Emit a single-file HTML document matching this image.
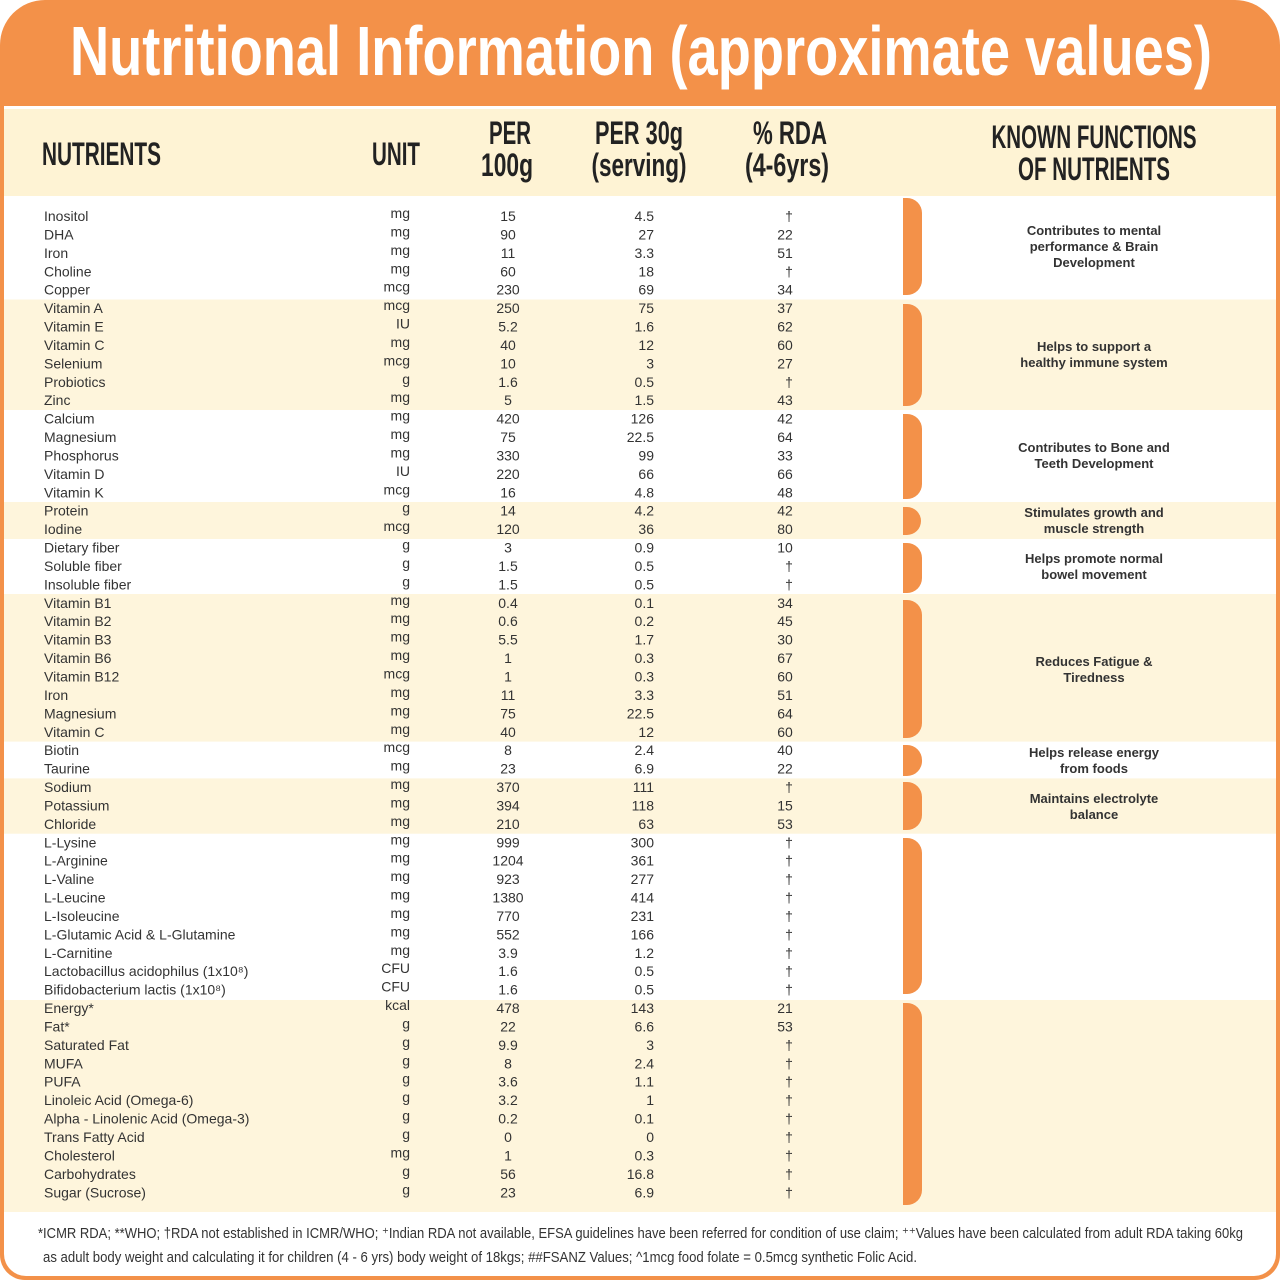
<!DOCTYPE html>
<html><head><meta charset="utf-8"><style>
html,body{margin:0;padding:0;background:#fff}
svg{display:block}
.r text{font-family:"Liberation Sans",sans-serif;font-size:14px;fill:#333}
.f{font-family:"Liberation Sans",sans-serif;font-size:13px;fill:#333;text-anchor:middle;font-weight:bold}
.h{font-family:"Liberation Sans",sans-serif;font-weight:bold;fill:#222}
</style></head><body>
<svg width="1280" height="1280" viewBox="0 0 1280 1280" xmlns="http://www.w3.org/2000/svg">
<path d="M0 45 A45 45 0 0 1 45 0 H1235 A45 45 0 0 1 1280 45 V1255 A25 25 0 0 1 1255 1280 H25 A25 25 0 0 1 0 1255 Z" fill="#f39149"/>
<path d="M4 106 H1276 V1254 A22 22 0 0 1 1254 1276 H26 A22 22 0 0 1 4 1254 Z" fill="#fff"/>
<rect x="4" y="109" width="1272" height="87" fill="#fef3d4"/>
<g fill="#fef5dc">
<rect x="4" y="299.5" width="1272" height="110.5"/>
<rect x="4" y="502" width="1272" height="37"/>
<rect x="4" y="594" width="1272" height="147.6"/>
<rect x="4" y="778.4" width="1272" height="55.3"/>
<rect x="4" y="1000" width="1272" height="212"/>
</g>
<text x="641" y="75" text-anchor="middle" textLength="1142" lengthAdjust="spacingAndGlyphs" style="font-family:'Liberation Sans',sans-serif;font-weight:bold;font-size:70px;fill:#fff">Nutritional Information (approximate values)</text>
<g class="h" font-size="32">
<text x="42" y="165" textLength="119" lengthAdjust="spacingAndGlyphs">NUTRIENTS</text>
<text x="372" y="165" textLength="48" lengthAdjust="spacingAndGlyphs">UNIT</text>
<text x="510" y="144" text-anchor="middle" textLength="42" lengthAdjust="spacingAndGlyphs">PER</text>
<text x="507" y="176" text-anchor="middle" textLength="52" lengthAdjust="spacingAndGlyphs">100g</text>
<text x="639" y="144" text-anchor="middle" textLength="88" lengthAdjust="spacingAndGlyphs">PER 30g</text>
<text x="639" y="176" text-anchor="middle" textLength="95" lengthAdjust="spacingAndGlyphs">(serving)</text>
<text x="790" y="144" text-anchor="middle" textLength="74" lengthAdjust="spacingAndGlyphs">% RDA</text>
<text x="787" y="176" text-anchor="middle" textLength="84" lengthAdjust="spacingAndGlyphs">(4-6yrs)</text>
<text x="1094" y="148" text-anchor="middle" textLength="205" lengthAdjust="spacingAndGlyphs">KNOWN FUNCTIONS</text>
<text x="1094" y="180" text-anchor="middle" textLength="152" lengthAdjust="spacingAndGlyphs">OF NUTRIENTS</text>
</g>
<g fill="#f39149">
<path d="M903 198 H907 A15 15 0 0 1 922 213 V280 A15 15 0 0 1 907 295 H903 Z"/>
<path d="M903 304 H907 A15 15 0 0 1 922 319 V391 A15 15 0 0 1 907 406 H903 Z"/>
<path d="M903 414 H907 A15 15 0 0 1 922 429 V484 A15 15 0 0 1 907 499 H903 Z"/>
<path d="M903 507 H907 A14 14 0 0 1 921 521 A14 14 0 0 1 907 535 H903 Z"/>
<path d="M903 543 H907 A15 15 0 0 1 922 558 V578 A15 15 0 0 1 907 593 H903 Z"/>
<path d="M903 600 H907 A15 15 0 0 1 922 615 V723 A15 15 0 0 1 907 738 H903 Z"/>
<path d="M903 745 H907 A15 15 0 0 1 922 760 A15 15 0 0 1 907 776 H903 Z"/>
<path d="M903 782 H907 A15 15 0 0 1 922 797 V815 A15 15 0 0 1 907 830 H903 Z"/>
<path d="M903 838 H907 A15 15 0 0 1 922 853 V979 A15 15 0 0 1 907 994 H903 Z"/>
<path d="M903 1003 H907 A15 15 0 0 1 922 1018 V1190 A15 15 0 0 1 907 1205 H903 Z"/>
</g>
<g class="f">
<text x="1094" y="235">Contributes to mental</text><text x="1094" y="251">performance &amp; Brain</text><text x="1094" y="267">Development</text>
<text x="1094" y="351">Helps to support a</text><text x="1094" y="367">healthy immune system</text>
<text x="1094" y="452">Contributes to Bone and</text><text x="1094" y="468">Teeth Development</text>
<text x="1094" y="517">Stimulates growth and</text><text x="1094" y="533">muscle strength</text>
<text x="1094" y="563">Helps promote normal</text><text x="1094" y="579">bowel movement</text>
<text x="1094" y="666">Reduces Fatigue &amp;</text><text x="1094" y="682">Tiredness</text>
<text x="1094" y="757">Helps release energy</text><text x="1094" y="773">from foods</text>
<text x="1094" y="803">Maintains electrolyte</text><text x="1094" y="819">balance</text>
</g>
<g class="r">
<g transform="translate(0,221)"><text x="44">Inositol</text><text x="410" y="-3" text-anchor="end">mg</text><text x="508" text-anchor="middle">15</text><text x="654" text-anchor="end">4.5</text><text x="789" text-anchor="middle">†</text></g>
<g transform="translate(0,239.4)"><text x="44">DHA</text><text x="410" y="-3" text-anchor="end">mg</text><text x="508" text-anchor="middle">90</text><text x="654" text-anchor="end">27</text><text x="785" text-anchor="middle">22</text></g>
<g transform="translate(0,257.8)"><text x="44">Iron</text><text x="410" y="-3" text-anchor="end">mg</text><text x="508" text-anchor="middle">11</text><text x="654" text-anchor="end">3.3</text><text x="785" text-anchor="middle">51</text></g>
<g transform="translate(0,276.3)"><text x="44">Choline</text><text x="410" y="-3" text-anchor="end">mg</text><text x="508" text-anchor="middle">60</text><text x="654" text-anchor="end">18</text><text x="789" text-anchor="middle">†</text></g>
<g transform="translate(0,294.7)"><text x="44">Copper</text><text x="410" y="-3" text-anchor="end">mcg</text><text x="508" text-anchor="middle">230</text><text x="654" text-anchor="end">69</text><text x="785" text-anchor="middle">34</text></g>
<g transform="translate(0,313.1)"><text x="44">Vitamin A</text><text x="410" y="-3" text-anchor="end">mcg</text><text x="508" text-anchor="middle">250</text><text x="654" text-anchor="end">75</text><text x="785" text-anchor="middle">37</text></g>
<g transform="translate(0,331.5)"><text x="44">Vitamin E</text><text x="410" y="-3" text-anchor="end">IU</text><text x="508" text-anchor="middle">5.2</text><text x="654" text-anchor="end">1.6</text><text x="785" text-anchor="middle">62</text></g>
<g transform="translate(0,349.9)"><text x="44">Vitamin C</text><text x="410" y="-3" text-anchor="end">mg</text><text x="508" text-anchor="middle">40</text><text x="654" text-anchor="end">12</text><text x="785" text-anchor="middle">60</text></g>
<g transform="translate(0,368.4)"><text x="44">Selenium</text><text x="410" y="-3" text-anchor="end">mcg</text><text x="508" text-anchor="middle">10</text><text x="654" text-anchor="end">3</text><text x="785" text-anchor="middle">27</text></g>
<g transform="translate(0,386.8)"><text x="44">Probiotics</text><text x="410" y="-3" text-anchor="end">g</text><text x="508" text-anchor="middle">1.6</text><text x="654" text-anchor="end">0.5</text><text x="789" text-anchor="middle">†</text></g>
<g transform="translate(0,405.2)"><text x="44">Zinc</text><text x="410" y="-3" text-anchor="end">mg</text><text x="508" text-anchor="middle">5</text><text x="654" text-anchor="end">1.5</text><text x="785" text-anchor="middle">43</text></g>
<g transform="translate(0,423.6)"><text x="44">Calcium</text><text x="410" y="-3" text-anchor="end">mg</text><text x="508" text-anchor="middle">420</text><text x="654" text-anchor="end">126</text><text x="785" text-anchor="middle">42</text></g>
<g transform="translate(0,442)"><text x="44">Magnesium</text><text x="410" y="-3" text-anchor="end">mg</text><text x="508" text-anchor="middle">75</text><text x="654" text-anchor="end">22.5</text><text x="785" text-anchor="middle">64</text></g>
<g transform="translate(0,460.5)"><text x="44">Phosphorus</text><text x="410" y="-3" text-anchor="end">mg</text><text x="508" text-anchor="middle">330</text><text x="654" text-anchor="end">99</text><text x="785" text-anchor="middle">33</text></g>
<g transform="translate(0,478.9)"><text x="44">Vitamin D</text><text x="410" y="-3" text-anchor="end">IU</text><text x="508" text-anchor="middle">220</text><text x="654" text-anchor="end">66</text><text x="785" text-anchor="middle">66</text></g>
<g transform="translate(0,497.3)"><text x="44">Vitamin K</text><text x="410" y="-3" text-anchor="end">mcg</text><text x="508" text-anchor="middle">16</text><text x="654" text-anchor="end">4.8</text><text x="785" text-anchor="middle">48</text></g>
<g transform="translate(0,515.7)"><text x="44">Protein</text><text x="410" y="-3" text-anchor="end">g</text><text x="508" text-anchor="middle">14</text><text x="654" text-anchor="end">4.2</text><text x="785" text-anchor="middle">42</text></g>
<g transform="translate(0,534.1)"><text x="44">Iodine</text><text x="410" y="-3" text-anchor="end">mcg</text><text x="508" text-anchor="middle">120</text><text x="654" text-anchor="end">36</text><text x="785" text-anchor="middle">80</text></g>
<g transform="translate(0,552.6)"><text x="44">Dietary fiber</text><text x="410" y="-3" text-anchor="end">g</text><text x="508" text-anchor="middle">3</text><text x="654" text-anchor="end">0.9</text><text x="785" text-anchor="middle">10</text></g>
<g transform="translate(0,571)"><text x="44">Soluble fiber</text><text x="410" y="-3" text-anchor="end">g</text><text x="508" text-anchor="middle">1.5</text><text x="654" text-anchor="end">0.5</text><text x="789" text-anchor="middle">†</text></g>
<g transform="translate(0,589.4)"><text x="44">Insoluble fiber</text><text x="410" y="-3" text-anchor="end">g</text><text x="508" text-anchor="middle">1.5</text><text x="654" text-anchor="end">0.5</text><text x="789" text-anchor="middle">†</text></g>
<g transform="translate(0,607.8)"><text x="44">Vitamin B1</text><text x="410" y="-3" text-anchor="end">mg</text><text x="508" text-anchor="middle">0.4</text><text x="654" text-anchor="end">0.1</text><text x="785" text-anchor="middle">34</text></g>
<g transform="translate(0,626.2)"><text x="44">Vitamin B2</text><text x="410" y="-3" text-anchor="end">mg</text><text x="508" text-anchor="middle">0.6</text><text x="654" text-anchor="end">0.2</text><text x="785" text-anchor="middle">45</text></g>
<g transform="translate(0,644.7)"><text x="44">Vitamin B3</text><text x="410" y="-3" text-anchor="end">mg</text><text x="508" text-anchor="middle">5.5</text><text x="654" text-anchor="end">1.7</text><text x="785" text-anchor="middle">30</text></g>
<g transform="translate(0,663.1)"><text x="44">Vitamin B6</text><text x="410" y="-3" text-anchor="end">mg</text><text x="508" text-anchor="middle">1</text><text x="654" text-anchor="end">0.3</text><text x="785" text-anchor="middle">67</text></g>
<g transform="translate(0,681.5)"><text x="44">Vitamin B12</text><text x="410" y="-3" text-anchor="end">mcg</text><text x="508" text-anchor="middle">1</text><text x="654" text-anchor="end">0.3</text><text x="785" text-anchor="middle">60</text></g>
<g transform="translate(0,699.9)"><text x="44">Iron</text><text x="410" y="-3" text-anchor="end">mg</text><text x="508" text-anchor="middle">11</text><text x="654" text-anchor="end">3.3</text><text x="785" text-anchor="middle">51</text></g>
<g transform="translate(0,718.3)"><text x="44">Magnesium</text><text x="410" y="-3" text-anchor="end">mg</text><text x="508" text-anchor="middle">75</text><text x="654" text-anchor="end">22.5</text><text x="785" text-anchor="middle">64</text></g>
<g transform="translate(0,736.8)"><text x="44">Vitamin C</text><text x="410" y="-3" text-anchor="end">mg</text><text x="508" text-anchor="middle">40</text><text x="654" text-anchor="end">12</text><text x="785" text-anchor="middle">60</text></g>
<g transform="translate(0,755.2)"><text x="44">Biotin</text><text x="410" y="-3" text-anchor="end">mcg</text><text x="508" text-anchor="middle">8</text><text x="654" text-anchor="end">2.4</text><text x="785" text-anchor="middle">40</text></g>
<g transform="translate(0,773.6)"><text x="44">Taurine</text><text x="410" y="-3" text-anchor="end">mg</text><text x="508" text-anchor="middle">23</text><text x="654" text-anchor="end">6.9</text><text x="785" text-anchor="middle">22</text></g>
<g transform="translate(0,792)"><text x="44">Sodium</text><text x="410" y="-3" text-anchor="end">mg</text><text x="508" text-anchor="middle">370</text><text x="654" text-anchor="end">111</text><text x="789" text-anchor="middle">†</text></g>
<g transform="translate(0,810.4)"><text x="44">Potassium</text><text x="410" y="-3" text-anchor="end">mg</text><text x="508" text-anchor="middle">394</text><text x="654" text-anchor="end">118</text><text x="785" text-anchor="middle">15</text></g>
<g transform="translate(0,828.9)"><text x="44">Chloride</text><text x="410" y="-3" text-anchor="end">mg</text><text x="508" text-anchor="middle">210</text><text x="654" text-anchor="end">63</text><text x="785" text-anchor="middle">53</text></g>
<g transform="translate(0,847.3)"><text x="44">L-Lysine</text><text x="410" y="-3" text-anchor="end">mg</text><text x="508" text-anchor="middle">999</text><text x="654" text-anchor="end">300</text><text x="789" text-anchor="middle">†</text></g>
<g transform="translate(0,865.7)"><text x="44">L-Arginine</text><text x="410" y="-3" text-anchor="end">mg</text><text x="508" text-anchor="middle">1204</text><text x="654" text-anchor="end">361</text><text x="789" text-anchor="middle">†</text></g>
<g transform="translate(0,884.1)"><text x="44">L-Valine</text><text x="410" y="-3" text-anchor="end">mg</text><text x="508" text-anchor="middle">923</text><text x="654" text-anchor="end">277</text><text x="789" text-anchor="middle">†</text></g>
<g transform="translate(0,902.5)"><text x="44">L-Leucine</text><text x="410" y="-3" text-anchor="end">mg</text><text x="508" text-anchor="middle">1380</text><text x="654" text-anchor="end">414</text><text x="789" text-anchor="middle">†</text></g>
<g transform="translate(0,921)"><text x="44">L-Isoleucine</text><text x="410" y="-3" text-anchor="end">mg</text><text x="508" text-anchor="middle">770</text><text x="654" text-anchor="end">231</text><text x="789" text-anchor="middle">†</text></g>
<g transform="translate(0,939.4)"><text x="44">L-Glutamic Acid &amp; L-Glutamine</text><text x="410" y="-3" text-anchor="end">mg</text><text x="508" text-anchor="middle">552</text><text x="654" text-anchor="end">166</text><text x="789" text-anchor="middle">†</text></g>
<g transform="translate(0,957.8)"><text x="44">L-Carnitine</text><text x="410" y="-3" text-anchor="end">mg</text><text x="508" text-anchor="middle">3.9</text><text x="654" text-anchor="end">1.2</text><text x="789" text-anchor="middle">†</text></g>
<g transform="translate(0,976.2)"><text x="44">Lactobacillus acidophilus (1x10⁸)</text><text x="410" y="-3" text-anchor="end">CFU</text><text x="508" text-anchor="middle">1.6</text><text x="654" text-anchor="end">0.5</text><text x="789" text-anchor="middle">†</text></g>
<g transform="translate(0,994.6)"><text x="44">Bifidobacterium lactis (1x10⁸)</text><text x="410" y="-3" text-anchor="end">CFU</text><text x="508" text-anchor="middle">1.6</text><text x="654" text-anchor="end">0.5</text><text x="789" text-anchor="middle">†</text></g>
<g transform="translate(0,1013.1)"><text x="44">Energy*</text><text x="410" y="-3" text-anchor="end">kcal</text><text x="508" text-anchor="middle">478</text><text x="654" text-anchor="end">143</text><text x="785" text-anchor="middle">21</text></g>
<g transform="translate(0,1031.5)"><text x="44">Fat*</text><text x="410" y="-3" text-anchor="end">g</text><text x="508" text-anchor="middle">22</text><text x="654" text-anchor="end">6.6</text><text x="785" text-anchor="middle">53</text></g>
<g transform="translate(0,1049.9)"><text x="44">Saturated Fat</text><text x="410" y="-3" text-anchor="end">g</text><text x="508" text-anchor="middle">9.9</text><text x="654" text-anchor="end">3</text><text x="789" text-anchor="middle">†</text></g>
<g transform="translate(0,1068.3)"><text x="44">MUFA</text><text x="410" y="-3" text-anchor="end">g</text><text x="508" text-anchor="middle">8</text><text x="654" text-anchor="end">2.4</text><text x="789" text-anchor="middle">†</text></g>
<g transform="translate(0,1086.7)"><text x="44">PUFA</text><text x="410" y="-3" text-anchor="end">g</text><text x="508" text-anchor="middle">3.6</text><text x="654" text-anchor="end">1.1</text><text x="789" text-anchor="middle">†</text></g>
<g transform="translate(0,1105.2)"><text x="44">Linoleic Acid (Omega-6)</text><text x="410" y="-3" text-anchor="end">g</text><text x="508" text-anchor="middle">3.2</text><text x="654" text-anchor="end">1</text><text x="789" text-anchor="middle">†</text></g>
<g transform="translate(0,1123.6)"><text x="44">Alpha - Linolenic Acid (Omega-3)</text><text x="410" y="-3" text-anchor="end">g</text><text x="508" text-anchor="middle">0.2</text><text x="654" text-anchor="end">0.1</text><text x="789" text-anchor="middle">†</text></g>
<g transform="translate(0,1142)"><text x="44">Trans Fatty Acid</text><text x="410" y="-3" text-anchor="end">g</text><text x="508" text-anchor="middle">0</text><text x="654" text-anchor="end">0</text><text x="789" text-anchor="middle">†</text></g>
<g transform="translate(0,1160.4)"><text x="44">Cholesterol</text><text x="410" y="-3" text-anchor="end">mg</text><text x="508" text-anchor="middle">1</text><text x="654" text-anchor="end">0.3</text><text x="789" text-anchor="middle">†</text></g>
<g transform="translate(0,1178.8)"><text x="44">Carbohydrates</text><text x="410" y="-3" text-anchor="end">g</text><text x="508" text-anchor="middle">56</text><text x="654" text-anchor="end">16.8</text><text x="789" text-anchor="middle">†</text></g>
<g transform="translate(0,1197.3)"><text x="44">Sugar (Sucrose)</text><text x="410" y="-3" text-anchor="end">g</text><text x="508" text-anchor="middle">23</text><text x="654" text-anchor="end">6.9</text><text x="789" text-anchor="middle">†</text></g>
</g>
<g style="font-family:'Liberation Sans',sans-serif;font-size:15px;fill:#333">
<text x="38" y="1238" textLength="1205" lengthAdjust="spacingAndGlyphs">*ICMR RDA; **WHO; †RDA not established in ICMR/WHO; ⁺Indian RDA not available, EFSA guidelines have been referred for condition of use claim; ⁺⁺Values have been calculated from adult RDA taking 60kg</text>
<text x="43" y="1262" textLength="874" lengthAdjust="spacingAndGlyphs">as adult body weight and calculating it for children (4 - 6 yrs) body weight of 18kgs; ##FSANZ Values; ^1mcg food folate = 0.5mcg synthetic Folic Acid.</text>
</g>
</svg>
</body></html>
